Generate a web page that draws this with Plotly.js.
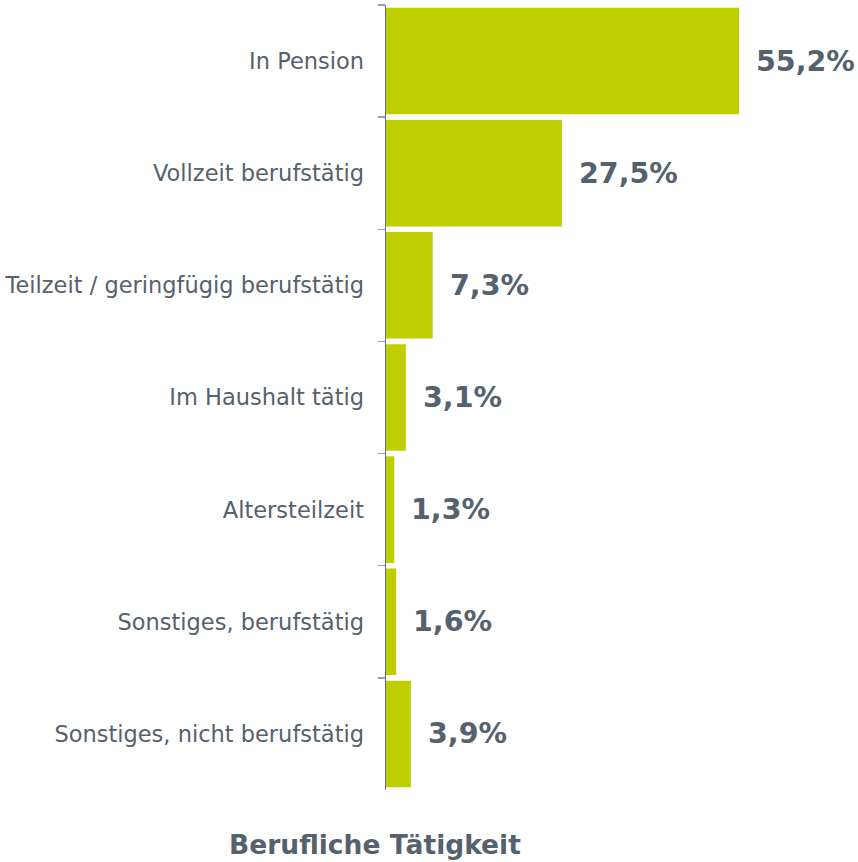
<!DOCTYPE html>
<html><head><meta charset="utf-8">
<script src="https://cdn.plot.ly/plotly-3.0.1.min.js"></script>
<style>html,body{margin:0;padding:0;background:#fff}#c{width:858px;height:862px}</style>
</head><body><div id="c"></div>
<script>
const categories = ["In Pension","Vollzeit berufstätig","Teilzeit / geringfügig berufstätig","Im Haushalt tätig","Altersteilzeit","Sonstiges, berufstätig","Sonstiges, nicht berufstätig"];
const values = [55.2, 27.5, 7.3, 3.1, 1.3, 1.6, 3.9];
const valueLabels = ["55,2%","27,5%","7,3%","3,1%","1,3%","1,6%","3,9%"];
const chartTitle = "Berufliche Tätigkeit";

const textColor = "#55616d";
const trace = {
  type: "bar", orientation: "h",
  x: values, y: categories,
  marker: {color: "#bfce00"},
  hoverinfo: "none"
};
const annotations = values.map((v,i)=>({
  x: v, y: categories[i], xref: "x", yref: "y",
  text: valueLabels[i], showarrow: false, xanchor: "left", xshift: 15,
  font: {family: "DejaVu Sans", size: 28.5, color: textColor, weight: "bold"}
}));
const layout = {
  width: 858, height: 862,
  margin: {l: 386, r: 0, t: 5, b: 72},
  paper_bgcolor: "#fff", plot_bgcolor: "#fff",
  bargap: 0.05,
  showlegend: false,
  title: {text: "<b>" + chartTitle + "</b>", xref: "container", yref: "container",
    x: 0.437, y: 0.02, xanchor: "center", yanchor: "middle",
    font: {family: "DejaVu Sans", size: 26.5, color: textColor}},
  xaxis: {range: [0, 73.8], visible: false, fixedrange: true},
  yaxis: {type: "category", autorange: "reversed", showline: true, linecolor: "#66707c", linewidth: 1.5,
    ticks: "outside", tickson: "boundaries", ticklen: 7, tickcolor: "#9aa0a8", tickwidth: 1.5,
    ticklabelstandoff: 16, showgrid: false, zeroline: false,
    tickfont: {family: "DejaVu Sans", size: 22.5, color: textColor}},
  annotations: annotations
};
Plotly.newPlot("c", [trace], layout, {displayModeBar: false, staticPlot: true});
</script></body></html>
